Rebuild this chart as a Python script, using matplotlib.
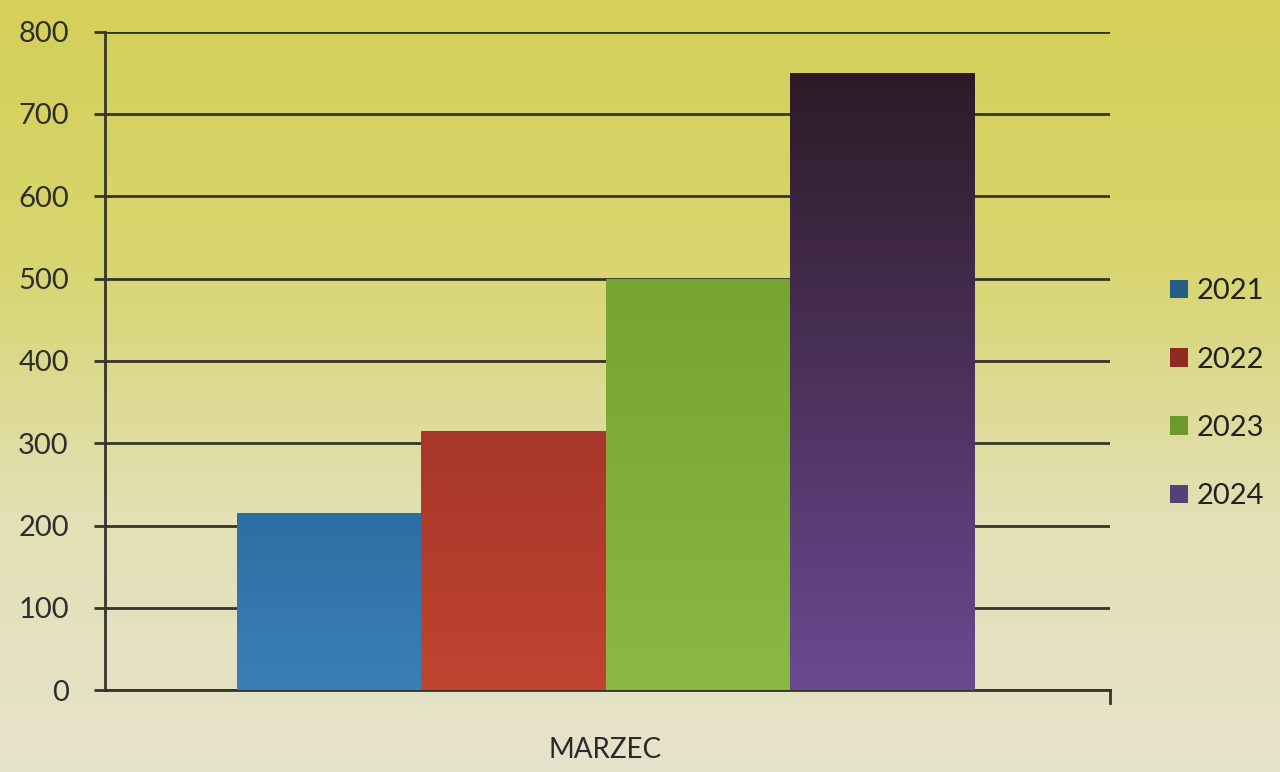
import numpy as np
import matplotlib.pyplot as plt
from matplotlib.colors import LinearSegmentedColormap
from matplotlib.patches import Patch

# data
category = 'MARZEC'
years = ['2021', '2022', '2023', '2024']
values = [215, 315, 500, 750]
yticks = [0, 100, 200, 300, 400, 500, 600, 700, 800]

# bottom colour, top colour for each bar
bar_colors = [('#3a80b8', '#2c6ea4'),
              ('#c04430', '#a8362a'),
              ('#8cb844', '#76a432'),
              ('#6a4a92', '#2e1a26')]
legend_colors = ['#245e80', '#8e2a22', '#6c9a2a', '#56407a']

plt.rcParams['font.family'] = ['Lato', 'DejaVu Sans']

fig = plt.figure(figsize=(12.8, 7.72), dpi=100)

# yellowish screen background, brighter at the top
bg = fig.add_axes([0, 0, 1, 1], zorder=-10)
bg_cmap = LinearSegmentedColormap.from_list('bg', ['#e6e3cc', '#e2e0b4', '#d8d56e', '#d4d058'])
bg.imshow(np.linspace(0, 1, 256).reshape(-1, 1), aspect='auto', cmap=bg_cmap,
          origin='lower', extent=[0, 1, 0, 1])
bg.axis('off')

ax = fig.add_axes([0.082, 0.106, 0.785, 0.853])
ax.set_facecolor('none')

x = np.arange(len(years))
bars = ax.bar(x, values, width=1.0, zorder=3, linewidth=0)

for bar, (c0, c1) in zip(bars, bar_colors):
    cmap = LinearSegmentedColormap.from_list('g', [c0, c1])
    bx, by = bar.get_x(), bar.get_y()
    bw, bh = bar.get_width(), bar.get_height()
    bar.set_facecolor('none')
    im = ax.imshow(np.linspace(0, 1, 256).reshape(-1, 1), aspect='auto', cmap=cmap,
                   origin='lower', extent=[bx, bx + bw, by, by + bh], zorder=3)
    im.set_clip_path(bar)

# category spans the whole plot, bars take the middle
ax.set_xlim(-1.22, 4.24)
ax.set_ylim(0, 800)
ax.set_yticks(yticks)
ax.yaxis.grid(True, color='#35352a', linewidth=2)
ax.set_axisbelow(True)

ax.set_xticks([1.5])
ax.set_xticklabels([category], fontsize=20, color='#2a2a2a')
ax.tick_params(axis='x', length=0, pad=34)
ax.tick_params(axis='y', length=8, width=2, color='#35352a', labelsize=21,
               labelcolor='#2e2e2e', pad=18)

for side in ['top', 'right']:
    ax.spines[side].set_visible(False)
ax.spines['left'].set_color('#35352a')
ax.spines['left'].set_linewidth(2)
ax.spines['bottom'].set_color('#35352a')
ax.spines['bottom'].set_linewidth(2)
# small tick at the right end of the category axis
ax.plot([1, 1], [0, -0.02], transform=ax.transAxes, color='#35352a',
        linewidth=2, clip_on=False)

handles = [Patch(facecolor=c, edgecolor='none') for c in legend_colors]
ax.legend(handles, years, loc='center left', bbox_to_anchor=(1.06, 0.45),
          frameon=False, fontsize=21, handlelength=0.6, handleheight=0.6,
          handletextpad=0.3, labelspacing=1.45, labelcolor='#222222',
          borderpad=0, borderaxespad=0)

fig.savefig('out.png', dpi=100)
